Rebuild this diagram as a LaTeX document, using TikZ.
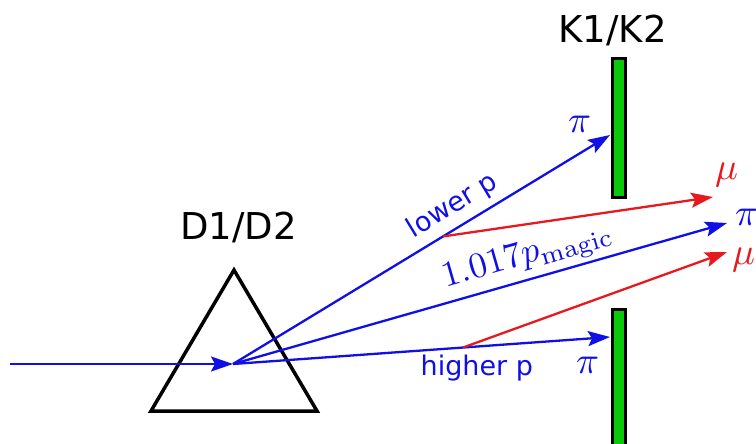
\documentclass[tikz,border=0pt]{standalone}
\usepackage[no-math]{fontspec}
\newfontfamily\dvs{DejaVu Sans}
\usetikzlibrary{arrows.meta,calc}
\definecolor{rayblue}{RGB}{15,15,230}
\definecolor{rayred}{RGB}{230,25,30}
\definecolor{bargreen}{RGB}{10,200,10}
\newcommand{\mymath}[2]{{\fontsize{10}{12}\selectfont\scalebox{#1}{$#2$}}}
\begin{document}
\begin{tikzpicture}[x=1pt,y=-1pt,
  ray/.style={line width=2.3pt,-{Stealth[length=22pt,width=15pt,inset=4pt]}},
  bluray/.style={ray,draw=rayblue,fill=rayblue},
  redray/.style={ray,draw=rayred,fill=rayred},
  bar/.style={draw=black,fill=bargreen,line width=3pt,minimum width=13pt,inner sep=0pt,rectangle},
  bigtxt/.style={font=\dvs\fontsize{37}{40}\selectfont,inner sep=0pt,anchor=base},
  smalltxt/.style={font=\dvs\fontsize{27}{30}\selectfont,text=rayblue},
  mathlbl/.style={inner sep=0pt,anchor=base west}
]
\useasboundingbox (0,0) rectangle (756,444);

% prism
\draw[line width=3.5pt,line join=miter] (234,270) -- (151,411) -- (317,411) -- cycle;

% collimator bars
\node[bar,minimum height=139pt] (k1) at (619,128) {};
\node[bar,minimum height=150pt] (k2) at (619,384) {};

% labels
\node[bigtxt] (klab) at (612.5,43) {K1/K2};
\node[bigtxt] (dlab) at (238.5,239) {D1/D2};

% coordinates
\coordinate (beamin) at (10,364);
\coordinate (src) at (233,364);
\coordinate (tipPiUp) at (610,135);
\coordinate (tipPiMid) at (727,223);
\coordinate (tipPiLow) at (610,337);
\coordinate (tipMuUp) at (713,197);
\coordinate (tipMuLow) at (727,252);
\coordinate (muUpStart) at ($(src)!0.557!(tipPiUp)$);
\coordinate (muLowStart) at ($(src)!0.610!(tipPiLow)$);

% incoming beam
\draw[bluray] (beamin) -- (src);

% pion rays
\draw[bluray] (src) -- node[pos=0.611,sloped,anchor=south,inner sep=7pt,smalltxt] (lowlab) {lower p} (tipPiUp);
\draw[bluray] (src) -- node[pos=0.609,sloped,anchor=south,inner sep=4pt,text=rayblue] (maglab) {\mymath{3.6}{1.017p_{\mathrm{magic}}}} (tipPiMid);
\draw[bluray] (src) -- (tipPiLow);

% muon rays
\draw[redray] (muUpStart) -- (tipMuUp);
\draw[redray] (muLowStart) -- (tipMuLow);

% higher p
\node[smalltxt,inner sep=0pt,anchor=base west] (highlab) at (420.5,375) {higher p};

% particle labels
\node[mathlbl,text=rayblue] (piUp) at (568,132) {\mymath{3.8}{\pi}};
\node[mathlbl,text=rayblue] (piMid) at (735,225) {\mymath{3.8}{\pi}};
\node[mathlbl,text=rayblue] (piLow) at (576,373) {\mymath{3.8}{\pi}};
\node[mathlbl,text=rayred] (muUp) at (715,179) {\mymath{3.8}{\mu}};
\node[mathlbl,text=rayred] (muLow) at (732,264) {\mymath{3.8}{\mu}};
\end{tikzpicture}
\end{document}
